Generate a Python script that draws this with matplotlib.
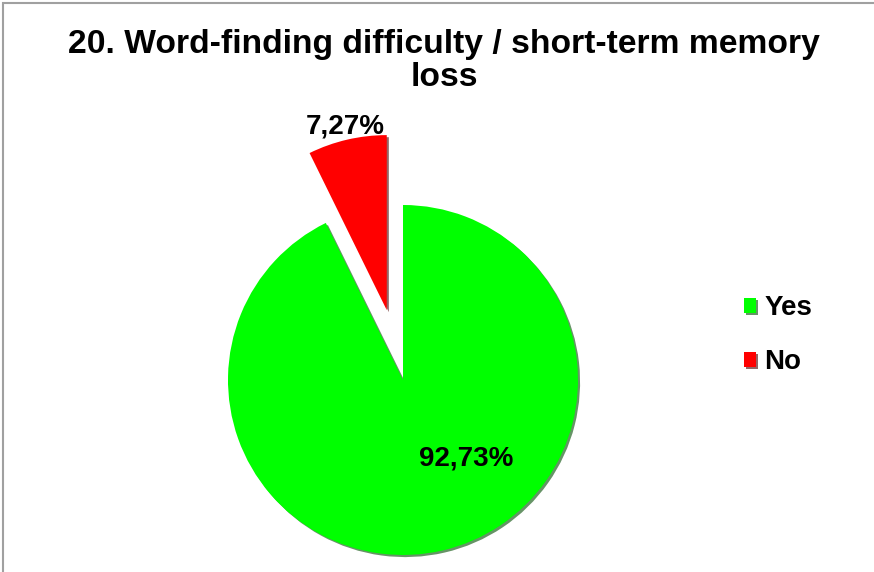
import matplotlib
matplotlib.use("Agg")
import matplotlib.pyplot as plt
import matplotlib.patheffects as pe
from matplotlib.patches import Rectangle

plt.rcParams['font.family'] = ['Liberation Sans', 'DejaVu Sans']

# data
labels = ["Yes", "No"]
values = [92.73, 7.27]
value_text = ["92,73%", "7,27%"]
colors = ["#00ff00", "#ff0000"]
explode = [0.0, 0.41]

fig = plt.figure(figsize=(8.74, 5.72), dpi=100)

# light grey frame around the chart area
fig.patches.append(Rectangle((3 / 874, -0.01), 1.0, 1.0 - 3 / 572 + 0.01,
                             transform=fig.transFigure, fill=False,
                             edgecolor="#a0a0a0", linewidth=1.5))

# axes placed so that 1 data unit = 175 px, pie centre at (403, 380) px
r_px = 175.0
xl, xr = -2.2, 2.2
yb, yt = -1.09, 1.9
left = (403 - (-xl) * r_px) / 874
bottom = (192 + yb * r_px) / 572
ax = fig.add_axes([left, bottom, (xr - xl) * r_px / 874, (yt - yb) * r_px / 572])

wedges, _ = ax.pie(values, colors=colors, explode=explode, startangle=90,
                   counterclock=False, labels=None,
                   wedgeprops=dict(linewidth=0))
for w in wedges:
    w.set_path_effects([pe.SimplePatchShadow(offset=(1.5, -1.5), alpha=0.6),
                        pe.Normal()])

ax.set_xlim(xl, xr)
ax.set_ylim(yb, yt)
ax.set_aspect("equal", adjustable="box")
ax.axis("off")

# value labels
ax.text(0.36, -0.45, value_text[0], ha="center", va="center",
        fontsize=20, fontweight="bold")
ax.text(-0.33, 1.45, value_text[1], ha="center", va="center",
        fontsize=20, fontweight="bold")

fig.suptitle("20. Word-finding difficulty / short-term memory\nloss",
             x=0.508, y=0.95, fontsize=24.2, fontweight="bold", linespacing=1.1)

leg = ax.legend(wedges, labels, loc="center left",
                bbox_to_anchor=(0.91, 0.45), frameon=False,
                prop=dict(size=20, weight="bold"),
                handlelength=0.45, handleheight=0.45, handletextpad=0.3,
                labelspacing=1.0)

fig.savefig("out.png", dpi=100)
